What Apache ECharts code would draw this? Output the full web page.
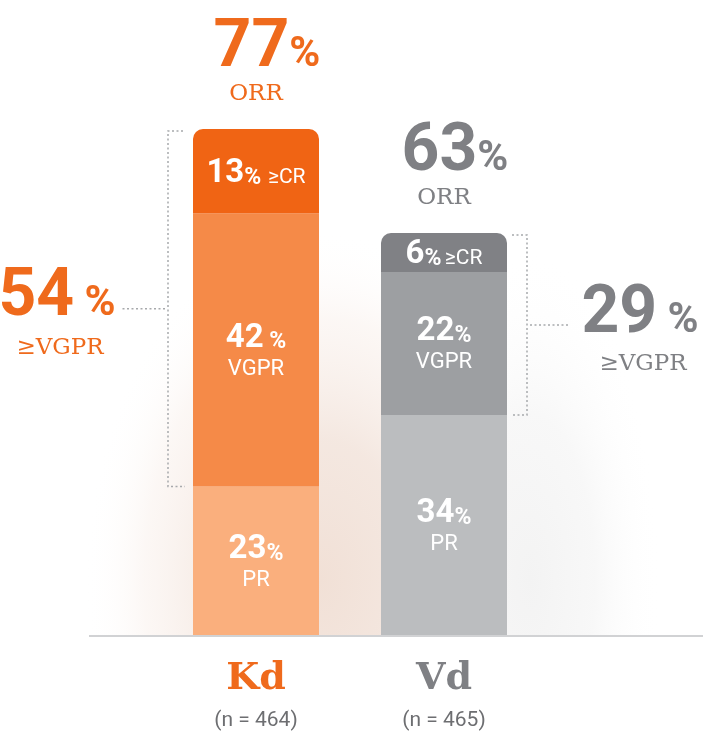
<!DOCTYPE html>
<html><head><meta charset="utf-8">
<script src="https://cdn.jsdelivr.net/npm/echarts@6/dist/echarts.min.js"></script>
<style>html,body{margin:0;padding:0;background:#fff}#c{width:703px;height:734px}</style>
</head><body><div id="c"></div>
<script>
// ---- data ----
const categories = ['Kd', 'Vd'];
const nLabels = ['(n = 464)', '(n = 465)'];
const prValues = [23, 34];
const vgprValues = [42, 22];
const crValues = [13, 6];
const orrValues = [77, 63];
const geVgprValues = [54, 29];

// ---- styles ----
const palettes = [
  { cr: '#F06414', vgpr: '#F58A48', pr: '#FAAF7D', text: '#EF6A1C' },
  { cr: '#808185', vgpr: '#9D9FA2', pr: '#BBBDBF', text: '#7F8084' }
];
const BAR_RATIO = 126 / 188;
const SANS = 'Roboto, "Noto Sans", sans-serif';
const SERIF = '"DejaVu Serif", serif';

const chart = echarts.init(document.getElementById('c'), null, { renderer: 'canvas' });

const numRich = {
  num: { fontFamily: SANS, fontWeight: 'bold', fontSize: 33, color: '#fff', lineHeight: 38, verticalAlign: 'bottom' },
  pct: { fontFamily: SANS, fontWeight: 'bold', fontSize: 23, color: '#fff', lineHeight: 38, verticalAlign: 'bottom', padding: [0, 0, 1, 0] },
  lbl: { fontFamily: SANS, fontSize: 22, color: '#fff', lineHeight: 28 },
  lblS: { fontFamily: SANS, fontSize: 21, color: '#fff', lineHeight: 38, verticalAlign: 'bottom', padding: [0, 0, 2, 0] }
};

function barSeries(name, values, key, fmt) {
  return {
    name, type: 'bar', stack: 'resp', barWidth: BAR_RATIO * 100 + '%',
    data: values.map((v, i) => ({ value: v, itemStyle: { color: palettes[i][key] } })),
    itemStyle: key === 'cr' ? { borderRadius: [10, 10, 0, 0] } : {},
    label: { show: true, position: 'inside', formatter: fmt, rich: numRich },
    emphasis: { disabled: true },
    silent: true
  };
}

const annotData = categories.map((c, i) => [i, prValues[i] + vgprValues[i] + crValues[i], prValues[i], orrValues[i], geVgprValues[i]]);

function bigRich(color) {
  return {
    n: { fontFamily: SANS, fontWeight: 'bold', fontSize: 66, fill: color, color, lineHeight: 70, verticalAlign: 'bottom' },
    p: { fontFamily: SANS, fontWeight: 'bold', fontSize: 42, fill: color, color, lineHeight: 70, verticalAlign: 'bottom', padding: [0, 0, 6, 0] }
  };
}

const option = {
  backgroundColor: '#fff',
  animation: false,
  grid: { left: 162, right: 165, top: 116, bottom: 98 },
  xAxis: {
    type: 'category', data: categories,
    axisLine: { show: false }, axisTick: { show: false },
    axisLabel: {
      margin: 21,
      formatter: (v, i) => '{c' + i + '|' + v + '}\n{n|' + nLabels[i] + '}',
      rich: {
        c0: { fontFamily: SERIF, fontWeight: 'bold', fontSize: 38, color: palettes[0].text, lineHeight: 44 },
        c1: { fontFamily: SERIF, fontWeight: 'bold', fontSize: 38, color: palettes[1].text, lineHeight: 44 },
        n: { fontFamily: SANS, fontSize: 21, color: '#6D6E71', lineHeight: 40 }
      }
    }
  },
  yAxis: { type: 'value', min: 0, max: 80, show: false, splitLine: { show: false } },
  graphic: [
    { type: 'rect', z: -3, silent: true, x: 320, y: 580, scaleX: 235, scaleY: 350,
      shape: { x: -1, y: -1, width: 2, height: 2 },
      style: { fill: { type: 'radial', x: 0.5, y: 0.5, r: 0.5, colorStops: [
        { offset: 0, color: 'rgba(241,224,214,1)' }, { offset: 0.4, color: 'rgba(243,229,221,0.9)' }, { offset: 0.75, color: 'rgba(249,240,235,0.5)' }, { offset: 1, color: 'rgba(255,255,255,0)' } ] } } },
    { type: 'rect', z: -2, silent: true, x: 530, y: 580, scaleX: 130, scaleY: 330,
      shape: { x: -1, y: -1, width: 2, height: 2 },
      style: { fill: { type: 'radial', x: 0.5, y: 0.5, r: 0.5, colorStops: [
        { offset: 0, color: 'rgba(243,243,243,1)' }, { offset: 0.5, color: 'rgba(246,246,246,0.8)' }, { offset: 1, color: 'rgba(255,255,255,0)' } ] } } },
    { type: 'rect', z: -1, silent: true, shape: { x: 0, y: 636, width: 703, height: 98 }, style: { fill: '#fff' } },
    { type: 'line', z: 10, silent: true, shape: { x1: 89, y1: 636, x2: 703, y2: 636 }, style: { stroke: '#D1D2D4', lineWidth: 2 } }
  ],
  series: [
    barSeries('PR', prValues, 'pr', p => '{num|' + p.value + '}{pct|%}\n{lbl|PR}'),
    barSeries('VGPR', vgprValues, 'vgpr', p => '{num|' + p.value + '}{pct|' + (p.dataIndex === 0 ? ' %' : '%') + '}\n{lbl|VGPR}'),
    barSeries('≥CR', crValues, 'cr', p => '{num|' + p.value + '}{pct|%}' + (p.dataIndex === 0 ? '  ' : ' ') + '{lblS|≥CR}'),
    {
      type: 'custom', silent: true, z: 5,
      data: annotData,
      renderItem: function (params, api) {
        const i = api.value(0);
        const total = api.value(1), pr = api.value(2), orr = api.value(3), vg = api.value(4);
        const topPt = api.coord([i, total]);
        const prPt = api.coord([i, pr]);
        const band = api.size([1, 0])[0];
        const half = band * BAR_RATIO / 2;
        const cx = topPt[0];
        const color = palettes[i].text;
        const dash = { stroke: '#A7A9AC', lineWidth: 1.5, lineDash: [2, 2.5], fill: null };
        const yT = topPt[1] + 2, yB = prPt[1];
        const mid = (yT + yB) / 2;
        const children = [];
        children.push({ type: 'text', style: { x: cx + 11, y: topPt[1] - 82, text: '{n|' + orr + '}{p|%}', rich: bigRich(color), fill: color, align: 'center', verticalAlign: 'middle' } });
        children.push({ type: 'text', style: { x: cx, y: topPt[1] - 35, text: 'ORR', font: '23px ' + SERIF, fill: color, align: 'center', verticalAlign: 'middle' } });
        let pts, midLine, tx;
        if (i === 0) {
          const xl = cx - half, xv = xl - 25;
          pts = [[xl - 10, yT], [xv, yT], [xv, yB], [xl - 8, yB]];
          midLine = [[xv - 3, mid], [xv - 47, mid]];
          tx = xv - 111;
        } else {
          const xr = cx + half, xv = xr + 20;
          pts = [[xr + 5, yT], [xv, yT], [xv, yB], [xr + 5, yB]];
          midLine = [[xv + 3, mid], [xv + 43, mid]];
          tx = xv + 113;
        }
        children.push({ type: 'polyline', shape: { points: pts }, style: dash });
        children.push({ type: 'polyline', shape: { points: midLine }, style: dash });
        children.push({ type: 'text', style: { x: tx, y: mid - 12, text: '{n|' + vg + '}{p| %}', rich: bigRich(color), fill: color, align: 'center', verticalAlign: 'middle' } });
        children.push({ type: 'text', style: { x: tx + 3, y: mid + 39, text: '≥VGPR', font: '23px ' + SERIF, fill: color, align: 'center', verticalAlign: 'middle' } });
        return { type: 'group', children };
      }
    }
  ]
};
chart.setOption(option);
</script>
</body></html>
